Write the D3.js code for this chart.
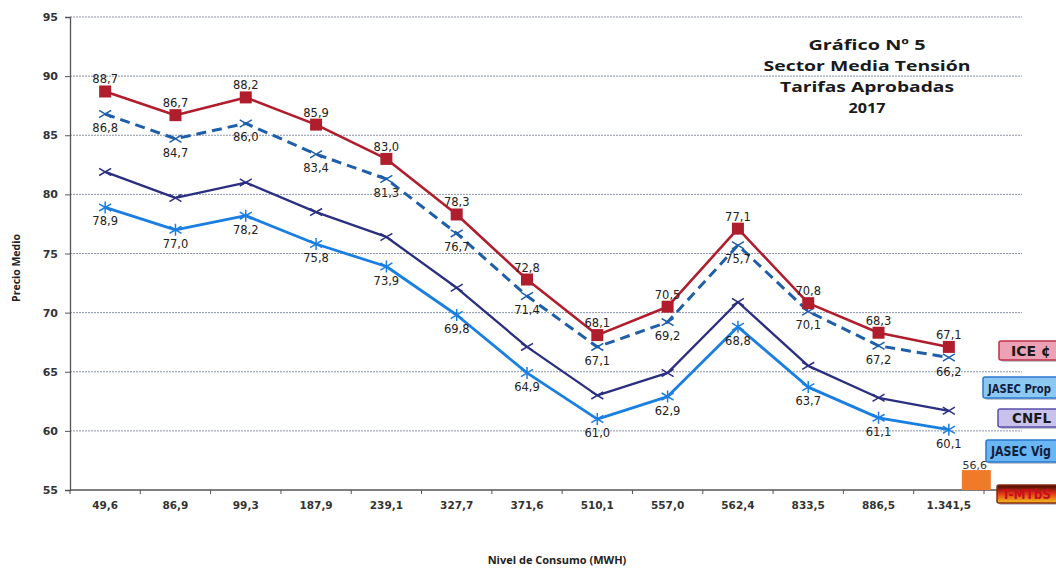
<!DOCTYPE html>
<html><head><meta charset="utf-8">
<script src="https://cdn.jsdelivr.net/npm/d3@7"></script>
<style>body{margin:0;background:#fff;font-family:"Open Sans","DejaVu Sans",sans-serif;}</style>
</head><body><svg id="c" width="1056" height="571"></svg>
<script>
const categories = ["49,6","86,9","99,3","187,9","239,1","327,7","371,6","510,1","557,0","562,4","833,5","886,5","1.341,5"];
const ice = [88.7,86.7,88.2,85.9,83.0,78.3,72.8,68.1,70.5,77.1,70.8,68.3,67.1];
const jasecProp = [86.8,84.7,86.0,83.4,81.3,76.7,71.4,67.1,69.2,75.7,70.1,67.2,66.2];
const cnfl = [81.9,79.7,81.0,78.5,76.4,72.1,67.1,63.0,64.9,70.9,65.5,62.8,61.7];
const jasecVig = [78.9,77.0,78.2,75.8,73.9,69.8,64.9,61.0,62.9,68.8,63.7,61.1,60.1];
const tmtbs = [{cat:"1.341,5", v:56.6}];
const yTicks = [55,60,65,70,75,80,85,90,95];
const titleLines = ["Gráfico Nº 5","Sector Media Tensión","Tarifas Aprobadas","2017"];
const legendNames = ["ICE ¢","JASEC Prop","CNFL","JASEC Vig","T-MTbS"];

const svg = d3.select("#c");
const L=70, T=17, B=490, R=984;
const x = d3.scaleBand().domain(categories).range([L,R]);
const y = d3.scaleLinear().domain([55,95]).range([B,T]);
const cx = c => x(c)+x.bandwidth()/2;

// gridlines
svg.append("g").selectAll("line").data(yTicks.slice(1)).join("line")
  .attr("x1",L).attr("x2",1022).attr("y1",d=>y(d)).attr("y2",d=>y(d))
  .attr("stroke","#8a93a8").attr("stroke-width",1).attr("stroke-dasharray","2,1");

// y axis
const ya = svg.append("g").attr("transform",`translate(${L},0)`)
  .call(d3.axisLeft(y).tickValues(yTicks).tickSize(5).tickFormat(d3.format("d")));
ya.select(".domain").attr("stroke","#555").attr("stroke-width",1.3);
ya.selectAll(".tick line").attr("stroke","#555");
ya.selectAll("text").attr("font-size",11).attr("font-weight","bold").attr("fill","#333").attr("x",-12)
  .attr("font-family","DejaVu Sans");

// x axis
const xa = svg.append("g").attr("transform",`translate(0,${B})`)
  .call(d3.axisBottom(x).tickSize(0).tickPadding(12));
xa.select(".domain").attr("stroke","#555").attr("stroke-width",1.3).attr("d",`M${L},0H1000`);
xa.selectAll("text").attr("font-size",10.5).attr("font-weight","bold").attr("fill","#333").attr("font-family","DejaVu Sans");
svg.append("g").selectAll("line").data(categories.concat(["end"])).join("line")
  .attr("x1",(d,i)=>L+i*x.bandwidth()).attr("x2",(d,i)=>L+i*x.bandwidth())
  .attr("y1",B).attr("y2",B+4).attr("stroke","#555");

// axis titles
svg.append("text").attr("transform","translate(20,268) rotate(-90)").attr("text-anchor","middle")
  .attr("font-size",10.5).attr("font-weight","bold").attr("font-family","Liberation Sans Narrow, Open Sans").attr("fill","#222").text("Precio Medio");
svg.append("text").attr("x",557).attr("y",564).attr("text-anchor","middle")
  .attr("font-size",11).attr("font-weight","bold").attr("font-family","Open Sans").attr("fill","#222").text("Nivel de Consumo (MWH)");

// title
const titleW = [117,207,174,37];
svg.append("g").selectAll("text").data(titleLines).join("text")
  .attr("x",867).attr("y",(d,i)=>[50,71,91.5,112.5][i]).attr("text-anchor","middle")
  .attr("font-size",15).attr("font-weight","bold").attr("font-family","Open Sans").attr("fill","#1a1a1a")
  .attr("textLength",(d,i)=>titleW[i]).attr("lengthAdjust","spacingAndGlyphs").text(d=>d);

// bar
svg.append("g").selectAll("rect").data(tmtbs).join("rect")
  .attr("x",d=>cx(d.cat)+13).attr("width",29).attr("y",d=>y(d.v)-1).attr("height",d=>B-y(d.v)+1)
  .attr("fill","#f07a2a");
svg.append("g").selectAll("text").data(tmtbs).join("text")
  .attr("x",d=>cx(d.cat)+26).attr("y",d=>y(d.v)-2.5).attr("text-anchor","middle")
  .attr("font-size",11).attr("font-family","DejaVu Sans").attr("fill","#333").text(d=>d3.format(".1f")(d.v).replace(".",","));

const line = d3.line().x((d,i)=>cx(categories[i])).y(d=>y(d));
const fmt = v => d3.format(".1f")(v).replace(".",",");

function series(vals,color,width,dash){
  svg.append("path").datum(vals).attr("d",line).attr("fill","none")
    .attr("stroke",color).attr("stroke-width",width).attr("stroke-dasharray",dash||null).attr("stroke-linejoin","round");
}
series(cnfl,"#2b2f80",2.3);
series(jasecVig,"#1a7fe0",2.8);
series(jasecProp,"#1f5fa8",3,"10,6");
series(ice,"#b01e2e",2.6);

// markers
function crosses(vals,color,star){
  const g = svg.append("g");
  vals.forEach((v,i)=>{
    const px=cx(categories[i]), py=y(v), s=6;
    g.append("path").attr("d",`M${px-s},${py-s*0.6}L${px+s},${py+s*0.6}M${px-s},${py+s*0.6}L${px+s},${py-s*0.6}`+(star?`M${px},${py-s}L${px},${py+s}`:""))
      .attr("stroke",color).attr("stroke-width",1.5);
  });
}
crosses(cnfl,"#2b2f80",false);
crosses(jasecVig,"#1a7fe0",true);
crosses(jasecProp,"#1f5fa8",false);
svg.append("g").selectAll("rect").data(ice).join("rect")
  .attr("x",(d,i)=>cx(categories[i])-6).attr("y",d=>y(d)-6).attr("width",12).attr("height",12).attr("fill","#b01e2e");

// labels
function labels(vals,dy){
  svg.append("g").selectAll("text").data(vals).join("text")
    .attr("x",(d,i)=>cx(categories[i])).attr("y",d=>y(d)+dy).attr("text-anchor","middle")
    .attr("font-size",11.5).attr("font-family","DejaVu Sans").attr("fill","#222").text(fmt);
}
labels(ice,-8);
labels(jasecProp,18);
labels(jasecVig,18);

// legend boxes (reach the right edge)
const defs = svg.append("defs");
const gr = defs.append("linearGradient").attr("id","tg").attr("x1",0).attr("x2",0).attr("y1",0).attr("y2",1);
gr.append("stop").attr("offset","0%").attr("stop-color","#3a0a00");
gr.append("stop").attr("offset","45%").attr("stop-color","#e0301a");
gr.append("stop").attr("offset","100%").attr("stop-color","#f2c21a");
const legend = [
  {n:legendNames[0], x:999,y:341,w:70,h:19,fill:"#eaa2b4",stroke:"#c03048",tc:"#1a1a1a",fs:14,dx:12},
  {n:legendNames[1], x:983,y:377,w:90,h:21,fill:"#8cc8f2",stroke:"#2a7ad0",tc:"#102040",fs:13,dx:5},
  {n:legendNames[2], x:998,y:409,w:70,h:18,fill:"#c8c2ec",stroke:"#5a50a8",tc:"#1a1a1a",fs:13.5,dx:14},
  {n:legendNames[3], x:986,y:440,w:90,h:22,fill:"#6ab6f2",stroke:"#2a7ad0",tc:"#102040",fs:13.5,dx:5},
  {n:legendNames[4], x:997,y:485,w:70,h:18,fill:"url(#tg)",stroke:"#8a2a10",tc:"#c8101a",fs:13.5,dx:5}
];
const lg = svg.append("g").selectAll("g").data(legend).join("g");
lg.append("rect").attr("x",d=>d.x+2).attr("y",d=>d.y+2).attr("width",d=>d.w).attr("height",d=>d.h)
  .attr("rx",2).attr("fill","#9aa0b0").attr("opacity",0.6);
lg.append("rect").attr("x",d=>d.x).attr("y",d=>d.y).attr("width",d=>d.w).attr("height",d=>d.h)
  .attr("rx",2).attr("fill",d=>d.fill).attr("stroke",d=>d.stroke).attr("stroke-width",1.5);
lg.append("text").attr("font-size",d=>d.fs)
  .attr("font-weight","bold").attr("font-family","DejaVu Sans").attr("fill",d=>d.tc).text(d=>d.n)
  .each(function(d){
    const len = this.getComputedTextLength();
    const tx = d.x+d.dx, avail = 1051 - tx;
    const s = Math.min(1, avail/len);
    d3.select(this).attr("transform",`translate(${tx},${d.y+d.h/2+5}) scale(${s},1)`);
  });
</script></body></html>
